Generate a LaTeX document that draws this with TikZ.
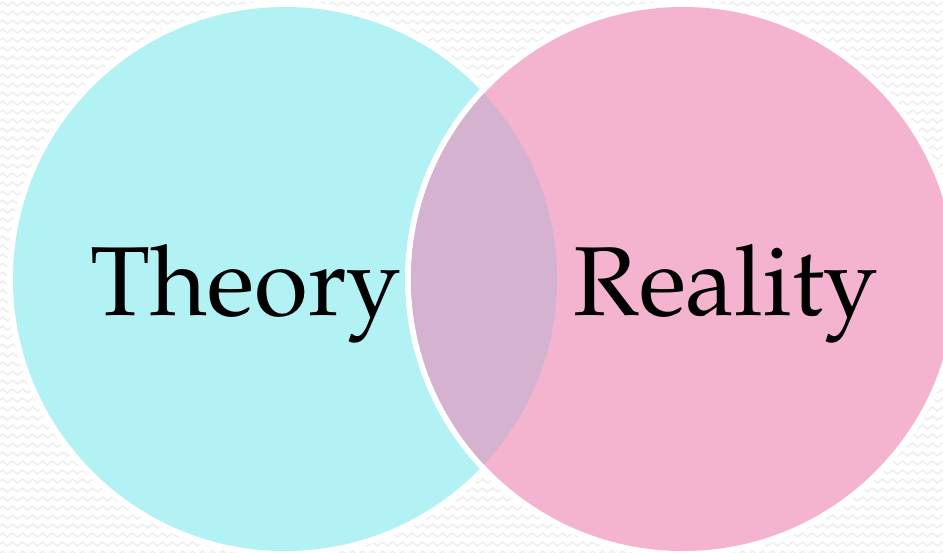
\documentclass[tikz,border=0pt]{standalone}
\usepackage[T1]{fontenc}
\usepackage{mathpazo}
\usetikzlibrary{decorations.pathmorphing}
\definecolor{cyanfill}{HTML}{B2F1F4}
\definecolor{pinkfill}{HTML}{F4B4D0}
\definecolor{mauvefill}{HTML}{D4B2D0}
\definecolor{zig}{HTML}{EDEDED}
\tikzset{
  zigrow/.style={draw=zig, line width=1.4pt, decorate, decoration={zigzag, segment length=10pt, amplitude=2pt}},
  ring/.style={draw=white, line width=6pt},
  label/.style={font=\fontsize{98}{100}\selectfont, text=black, inner sep=0pt, anchor=base}
}
\begin{document}
\begin{tikzpicture}[x=1pt, y=-1pt]
\useasboundingbox (0,0) rectangle (943,552);
\fill[white] (0,0) rectangle (943,552);
\begin{scope}
\clip (0,0) rectangle (943,552);
\foreach \r in {0,...,62} {
  \draw[zigrow] (-10,{4+9*\r}) -- (960,{4+9*\r});
}
% left circle
\draw[ring] (285,279) circle (275);
\fill[cyanfill] (285,279) circle (272);
% right circle
\draw[ring] (683,279) circle (275);
\fill[pinkfill] (683,279) circle (272);
% intersection
\begin{scope}
\clip (285,279) circle (272);
\fill[mauvefill] (683,279) circle (272);
\end{scope}
\end{scope}
\node[label] (theory) at (246,315) {Theory};
\node[label] (reality) at (726,315) {Reality};
\end{tikzpicture}
\end{document}
